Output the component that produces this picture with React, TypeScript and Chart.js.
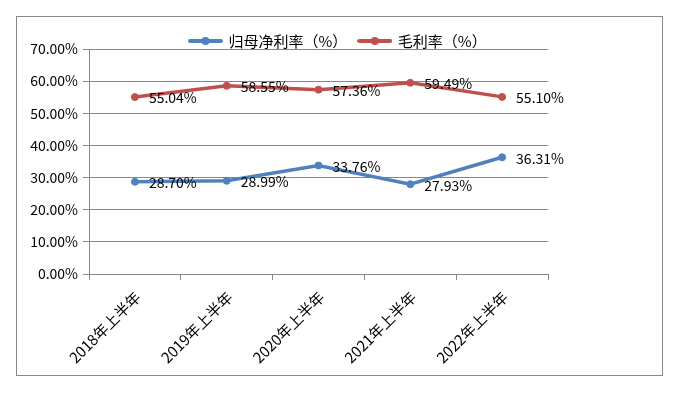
import React, { useEffect, useRef } from 'react';
import { Chart, registerables } from 'chart.js';

Chart.register(...registerables);

const categories = ['2018年上半年', '2019年上半年', '2020年上半年', '2021年上半年', '2022年上半年'];
const netMargin = [28.70, 28.99, 33.76, 27.93, 36.31];
const grossMargin = [55.04, 58.55, 57.36, 59.49, 55.10];
const seriesNames = ['归母净利率（%）', '毛利率（%）'];
const yTicks = [0, 10, 20, 30, 40, 50, 60, 70];

const BLUE = '#4F81BD';
const RED = '#C0504D';
const GRID = '#868686';
const FONT = '"Noto Sans CJK SC", "Noto Sans", sans-serif';

function legendImage(color: string): HTMLCanvasElement {
  const c = document.createElement('canvas');
  c.width = 35;
  c.height = 10;
  const ctx = c.getContext('2d')!;
  ctx.strokeStyle = color;
  ctx.lineWidth = 4;
  ctx.lineCap = 'round';
  ctx.beginPath();
  ctx.moveTo(2, 5);
  ctx.lineTo(33, 5);
  ctx.stroke();
  ctx.fillStyle = color;
  ctx.beginPath();
  ctx.arc(17.5, 5, 4, 0, Math.PI * 2);
  ctx.fill();
  return c;
}

const framePlugin = {
  id: 'frame',
  beforeDraw(chart: any) {
    const ctx = chart.ctx;
    ctx.save();
    ctx.strokeStyle = GRID;
    ctx.lineWidth = 1;
    ctx.strokeRect(16.5, 16.5, 646, 359);
    ctx.restore();
    const lg = chart.legend;
    if (lg) {
      const pad = lg.options.labels.padding;
      const dx = 190 - (lg.left + pad);
      lg.left += dx;
      lg.right += dx;
      lg.top = 41 - 7.5 - pad;
      lg.bottom = lg.top + 60;
      lg.height = 60;
    }
  },
};

const labelPlugin = {
  id: 'valueLabels',
  afterDatasetsDraw(chart: any) {
    const ctx = chart.ctx;
    ctx.save();
    ctx.font = `14px ${FONT}`;
    ctx.fillStyle = '#000';
    ctx.textAlign = 'left';
    ctx.textBaseline = 'middle';
    chart.data.datasets.forEach((ds: any, di: number) => {
      const meta = chart.getDatasetMeta(di);
      meta.data.forEach((pt: any, i: number) => {
        ctx.fillText(`${Number(ds.data[i]).toFixed(2)}%`, pt.x + 14, pt.y + 1);
      });
    });
    ctx.restore();
  },
};

export default function App() {
  const ref = useRef<HTMLCanvasElement>(null);

  useEffect(() => {
    if (!ref.current) return;
    const images = [legendImage(BLUE), legendImage(RED)];
    const chart = new Chart(ref.current, {
      type: 'line',
      data: {
        labels: categories,
        datasets: [
          {
            label: seriesNames[0],
            data: netMargin,
            borderColor: BLUE,
            backgroundColor: BLUE,
            borderWidth: 3.5,
            pointRadius: 3.5,
            pointBorderWidth: 1,
            pointBackgroundColor: BLUE,
            pointBorderColor: BLUE,
            tension: 0,
          },
          {
            label: seriesNames[1],
            data: grossMargin,
            borderColor: RED,
            backgroundColor: RED,
            borderWidth: 3.5,
            pointRadius: 3.5,
            pointBorderWidth: 1,
            pointBackgroundColor: RED,
            pointBorderColor: RED,
            tension: 0,
          },
        ],
      },
      options: {
        animation: false,
        responsive: false,
        devicePixelRatio: 1,
        layout: { padding: { left: 17, right: 142, top: 48, bottom: 0 } },
        plugins: {
          tooltip: { enabled: false },
          legend: {
            position: 'top',
            align: 'start',
            maxHeight: 1,
            labels: {
              usePointStyle: true,
              pointStyleWidth: 31,
              boxHeight: 15,
              padding: 12,
              color: '#000',
              font: { family: FONT, size: 15 },
              generateLabels: (c: any) => {
                const items = Chart.defaults.plugins.legend.labels.generateLabels(c);
                return items.map((it: any, i: number) => ({ ...it, pointStyle: images[i] }));
              },
            },
          },
        },
        scales: {
          x: {
            offset: true,
            afterFit: (s: any) => {
              s.height = 125;
            },
            grid: {
              offset: true,
              drawOnChartArea: false,
              tickLength: 6,
              color: GRID,
            },
            border: { color: GRID },
            ticks: {
              autoSkip: false,
              minRotation: 45,
              maxRotation: 45,
              padding: 8,
              labelOffset: 3,
              color: '#000',
              font: { family: FONT, size: 15 },
            },
          },
          y: {
            min: 0,
            max: 70,
            afterFit: (s: any) => {
              s.width = 72;
            },
            afterBuildTicks: (s: any) => {
              s.ticks = yTicks.map((v) => ({ value: v }));
            },
            grid: { color: GRID, tickLength: 6 },
            border: { color: GRID },
            ticks: {
              padding: 5,
              color: '#000',
              font: { family: FONT, size: 14 },
              callback: (v: any) => `${Number(v).toFixed(2)}%`,
            },
          },
        },
      },
      plugins: [framePlugin, labelPlugin],
    });
    return () => chart.destroy();
  }, []);

  return (
    <div style={{ position: 'absolute', left: 0, top: 0, width: 690, height: 399 }}>
      <canvas ref={ref} width={690} height={399} style={{ width: 690, height: 399 }} />
    </div>
  );
}
